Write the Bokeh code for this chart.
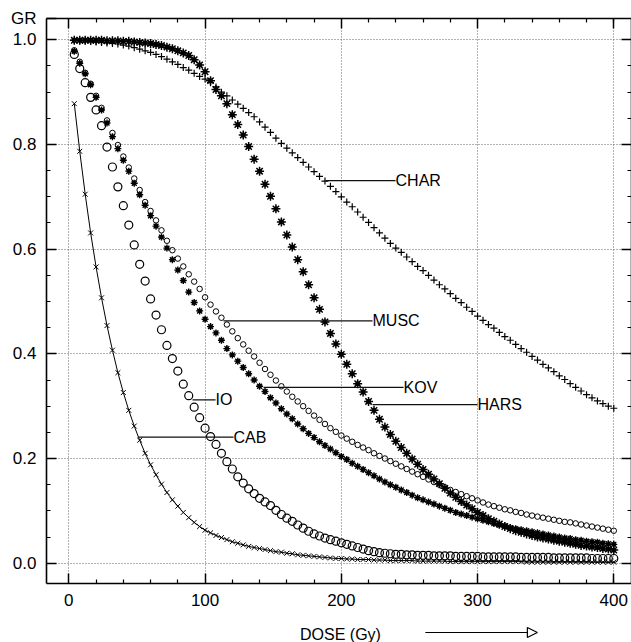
from bokeh.plotting import figure
from bokeh.layouts import column
from bokeh.models import (ColumnDataSource, FixedTicker, LinearAxis, Range1d,
                          CustomJSTickFormatter, Arrow, NormalHead)
from bokeh.embed import file_html
from bokeh.resources import INLINE
from bokeh.core.properties import value

# ---------------- data ----------------
dose = list(range(4, 404, 4))  # Gy, one point every 4 Gy

cab = [0.878, 0.787, 0.705, 0.631, 0.566, 0.507, 0.454, 0.407, 0.364, 0.326,
       0.292, 0.262, 0.235, 0.210, 0.188, 0.169, 0.151, 0.135, 0.121, 0.109,
       0.097, 0.087, 0.078, 0.070, 0.063, 0.058, 0.053, 0.049, 0.045, 0.041,
       0.038, 0.035, 0.032, 0.030, 0.028, 0.026, 0.024, 0.022, 0.021, 0.019,
       0.018, 0.016, 0.015, 0.014, 0.013, 0.012, 0.011, 0.010, 0.009, 0.009,
       0.008, 0.008, 0.007, 0.007, 0.007, 0.006, 0.006, 0.006, 0.005, 0.005,
       0.005, 0.005, 0.005, 0.004, 0.004, 0.004, 0.004, 0.004, 0.004, 0.003,
       0.003, 0.003, 0.003, 0.003, 0.003, 0.003, 0.003, 0.003, 0.003, 0.003,
       0.003, 0.003, 0.003, 0.002, 0.002, 0.002, 0.002, 0.002, 0.002, 0.002,
       0.002, 0.002, 0.002, 0.002, 0.002, 0.002, 0.002, 0.002, 0.002, 0.002]

io = [0.972, 0.945, 0.918, 0.890, 0.866, 0.836, 0.795, 0.757, 0.719, 0.683,
      0.646, 0.608, 0.571, 0.539, 0.505, 0.474, 0.446, 0.416, 0.391, 0.367,
      0.342, 0.320, 0.298, 0.278, 0.258, 0.242, 0.227, 0.210, 0.194, 0.180,
      0.165, 0.153, 0.142, 0.133, 0.124, 0.117, 0.110, 0.101, 0.093, 0.086,
      0.080, 0.073, 0.067, 0.061, 0.056, 0.052, 0.048, 0.045, 0.042, 0.039,
      0.036, 0.033, 0.030, 0.027, 0.024, 0.022, 0.020, 0.019, 0.018, 0.017,
      0.017, 0.016, 0.016, 0.015, 0.015, 0.015, 0.014, 0.014, 0.014, 0.014,
      0.013, 0.013, 0.013, 0.013, 0.013, 0.012, 0.012, 0.012, 0.012, 0.012,
      0.012, 0.012, 0.011, 0.011, 0.011, 0.011, 0.011, 0.011, 0.010, 0.010,
      0.010, 0.010, 0.010, 0.010, 0.010, 0.009, 0.009, 0.009, 0.009, 0.009]

kov = [0.978, 0.955, 0.935, 0.914, 0.890, 0.866, 0.841, 0.815, 0.792, 0.770,
       0.749, 0.726, 0.704, 0.684, 0.664, 0.644, 0.623, 0.602, 0.580, 0.560,
       0.540, 0.518, 0.498, 0.482, 0.466, 0.452, 0.440, 0.426, 0.410, 0.398,
       0.386, 0.374, 0.362, 0.350, 0.338, 0.328, 0.316, 0.306, 0.295, 0.285,
       0.276, 0.266, 0.257, 0.248, 0.240, 0.232, 0.225, 0.218, 0.211, 0.204,
       0.198, 0.191, 0.185, 0.179, 0.173, 0.167, 0.161, 0.155, 0.150, 0.145,
       0.140, 0.135, 0.130, 0.125, 0.121, 0.117, 0.113, 0.109, 0.105, 0.101,
       0.097, 0.094, 0.091, 0.088, 0.085, 0.082, 0.079, 0.076, 0.073, 0.071,
       0.068, 0.066, 0.064, 0.062, 0.060, 0.058, 0.056, 0.054, 0.052, 0.050,
       0.048, 0.047, 0.045, 0.044, 0.042, 0.041, 0.040, 0.038, 0.037, 0.036]

musc = [0.980, 0.958, 0.937, 0.916, 0.893, 0.870, 0.846, 0.822, 0.799, 0.777,
        0.756, 0.735, 0.713, 0.690, 0.673, 0.655, 0.636, 0.616, 0.598, 0.582,
        0.567, 0.552, 0.538, 0.524, 0.508, 0.494, 0.481, 0.469, 0.456, 0.443,
        0.430, 0.418, 0.406, 0.395, 0.383, 0.371, 0.360, 0.349, 0.338, 0.328,
        0.318, 0.309, 0.300, 0.291, 0.282, 0.274, 0.266, 0.258, 0.251, 0.244,
        0.238, 0.232, 0.226, 0.221, 0.216, 0.210, 0.205, 0.200, 0.195, 0.190,
        0.185, 0.180, 0.175, 0.170, 0.165, 0.160, 0.155, 0.150, 0.145, 0.140,
        0.136, 0.132, 0.128, 0.124, 0.120, 0.116, 0.112, 0.109, 0.106, 0.103,
        0.101, 0.098, 0.096, 0.093, 0.091, 0.089, 0.087, 0.085, 0.083, 0.081,
        0.079, 0.078, 0.076, 0.074, 0.072, 0.070, 0.068, 0.066, 0.064, 0.062]

hars = [0.999, 0.999, 0.999, 0.999, 0.999, 0.999, 0.998, 0.998, 0.998, 0.997,
        0.997, 0.996, 0.995, 0.994, 0.993, 0.991, 0.989, 0.986, 0.983, 0.979,
        0.975, 0.970, 0.962, 0.952, 0.939, 0.922, 0.905, 0.893, 0.878, 0.857,
        0.838, 0.818, 0.796, 0.772, 0.749, 0.724, 0.701, 0.677, 0.652, 0.627,
        0.604, 0.580, 0.557, 0.532, 0.507, 0.485, 0.461, 0.439, 0.419, 0.399,
        0.380, 0.362, 0.343, 0.327, 0.309, 0.292, 0.275, 0.260, 0.246, 0.233,
        0.221, 0.210, 0.199, 0.189, 0.179, 0.170, 0.161, 0.152, 0.143, 0.134,
        0.126, 0.118, 0.111, 0.104, 0.097, 0.091, 0.085, 0.080, 0.075, 0.070,
        0.066, 0.062, 0.059, 0.056, 0.053, 0.050, 0.048, 0.046, 0.044, 0.042,
        0.040, 0.038, 0.036, 0.034, 0.033, 0.031, 0.030, 0.028, 0.027, 0.025]

char = [0.999, 0.998, 0.998, 0.997, 0.996, 0.995, 0.994, 0.993, 0.992, 0.990,
        0.988, 0.985, 0.982, 0.979, 0.976, 0.972, 0.968, 0.963, 0.958, 0.953,
        0.947, 0.942, 0.936, 0.930, 0.925, 0.918, 0.910, 0.900, 0.893, 0.885,
        0.877, 0.869, 0.861, 0.853, 0.843, 0.833, 0.823, 0.812, 0.802, 0.793,
        0.784, 0.775, 0.766, 0.757, 0.748, 0.739, 0.730, 0.720, 0.710, 0.700,
        0.690, 0.681, 0.671, 0.661, 0.651, 0.641, 0.631, 0.621, 0.611, 0.602,
        0.594, 0.585, 0.576, 0.567, 0.559, 0.550, 0.541, 0.532, 0.524, 0.515,
        0.506, 0.498, 0.489, 0.481, 0.472, 0.464, 0.456, 0.449, 0.441, 0.433,
        0.426, 0.418, 0.410, 0.403, 0.395, 0.388, 0.380, 0.373, 0.366, 0.358,
        0.351, 0.343, 0.336, 0.329, 0.322, 0.316, 0.310, 0.305, 0.300, 0.296]

# curve labels with leader lines (dose from / to, GR level)
label_names = ["CHAR", "MUSC", "KOV", "HARS", "IO", "CAB"]
label_x0 = [188.4, 113.5, 142.9, 222.9, 90.8, 51.2]
label_x1 = [239.8, 222.9, 245.7, 300.0, 107.7, 120.9]
label_y = [0.731, 0.463, 0.336, 0.303, 0.312, 0.241]

x_major = [0, 100, 200, 300, 400]
x_minor = [20, 40, 60, 80, 120, 140, 160, 180, 220, 240, 260, 280,
           320, 340, 360, 380, 400]
y_major = [0.0, 0.2, 0.4, 0.6, 0.8, 1.0]
y_minor = [0.05, 0.10, 0.15, 0.25, 0.30, 0.35, 0.45, 0.50, 0.55,
           0.65, 0.70, 0.75, 0.85, 0.90, 0.95, 1.0]
y_title_pos = 1.04          # "GR" sits at the top of the y axis
y_title = "GR"
x_title = "DOSE (Gy)"
x_title_pos = 199.4         # centre of the x title (Gy)
arrow_from, arrow_to = 261.7, 343.9

FONT = "Liberation Sans"
X_RANGE = (-16.4, 413.0)

# ---------------- main figure ----------------
p = figure(width=631, height=615, output_backend="svg", toolbar_location=None,
           x_range=Range1d(*X_RANGE), y_range=Range1d(-0.0388, 1.0407),
           min_border_left=46, min_border_right=0, min_border_top=18,
           min_border_bottom=32)
p.background_fill_color = "white"
p.border_fill_color = "white"
p.outline_line_color = None

xt = FixedTicker(ticks=x_major, minor_ticks=x_minor)
yt = FixedTicker(ticks=y_major, minor_ticks=y_minor)
yt_left = FixedTicker(ticks=y_major + [y_title_pos], minor_ticks=y_minor)
blank = CustomJSTickFormatter(code="return '';")

def style_axis(ax):
    ax.axis_line_color = "black"
    ax.axis_line_width = 1.6
    ax.major_tick_in = 10
    ax.major_tick_out = 0
    ax.minor_tick_in = 4
    ax.minor_tick_out = 0
    ax.major_tick_line_color = "black"
    ax.minor_tick_line_color = "black"
    ax.major_tick_line_width = 1.5
    ax.minor_tick_line_width = 1.2
    ax.major_label_text_font = FONT
    ax.major_label_text_color = "black"
    ax.major_label_text_font_size = "17px"

xa = p.below[0]
xa.ticker = xt
style_axis(xa)
xa.major_label_standoff = 10

ya = p.left[0]
ya.ticker = yt_left
style_axis(ya)
ya.major_label_standoff = 10
ya.formatter = CustomJSTickFormatter(
    args=dict(title=y_title, pos=y_title_pos),
    code="return Math.abs(tick - pos) < 1e-6 ? title : tick.toFixed(1);")

top = LinearAxis(ticker=xt, formatter=blank)
style_axis(top)
top.major_label_standoff = 0
p.add_layout(top, "above")
right = LinearAxis(ticker=yt, formatter=blank)
style_axis(right)
right.major_label_standoff = 0
p.add_layout(right, "right")

p.xgrid.ticker = xt
p.ygrid.ticker = yt
for g in (p.xgrid[0], p.ygrid[0]):
    g.grid_line_color = "#555555"
    g.grid_line_dash = "1 2"
    g.grid_line_width = 1
    g.grid_line_alpha = 0.9

# ---------------- series ----------------
src = ColumnDataSource(dict(dose=dose, cab=cab, io=io, kov=kov, musc=musc,
                            hars=hars, char=char))

p.line("dose", "cab", source=src, line_color="black", line_width=1)
p.scatter("dose", "cab", source=src, marker="x", size=7,
          line_color="black", line_width=1)

p.scatter("dose", "io", source=src, marker="circle", size=8,
          fill_color=None, line_color="black", line_width=1.2)

p.scatter("dose", "musc", source=src, marker="circle", size=5.5,
          fill_color=None, line_color="black", line_width=1)

p.scatter("dose", "kov", source=src, marker="circle", size=3.5,
          fill_color="black", line_color="black")
p.scatter("dose", "kov", source=src, marker="asterisk", size=7,
          line_color="black", line_width=1.4)

p.scatter("dose", "hars", source=src, marker="circle", size=4,
          fill_color="black", line_color="black")
p.scatter("dose", "hars", source=src, marker="asterisk", size=9,
          line_color="black", line_width=1.5)

p.scatter("dose", "char", source=src, marker="cross", size=7,
          line_color="black", line_width=1.2)

# ---------------- curve labels ----------------
lab = ColumnDataSource(dict(name=label_names, x0=label_x0, x1=label_x1, y=label_y))
p.segment(x0="x0", y0="y", x1="x1", y1="y", source=lab,
          line_color="#111111", line_width=1.3)
p.text(x="x1", y="y", text="name", source=lab, text_font=value(FONT),
       text_font_size="16px", text_baseline="middle", text_align="left",
       text_color="black")

# ---------------- x title strip with arrow ----------------
p2 = figure(width=631, height=27, output_backend="svg", toolbar_location=None,
            x_range=p.x_range, y_range=Range1d(0, 1),
            x_axis_type=None, y_axis_type=None,
            min_border_left=46, min_border_right=0, min_border_top=0,
            min_border_bottom=0)
p2.outline_line_color = None
p2.background_fill_color = "white"
p2.border_fill_color = "white"
p2.text(x=[x_title_pos], y=[0.3], text=[x_title], text_font=value(FONT),
        text_font_size="16px", text_baseline="middle", text_align="center",
        text_color="black")
p2.add_layout(Arrow(end=NormalHead(size=10, fill_color="white",
                                   line_color="black", line_width=1.2),
                    x_start=arrow_from, y_start=0.37, x_end=arrow_to, y_end=0.37,
                    line_color="black", line_width=1.2))

layout = column(p, p2, spacing=0)
open("out.html", "w").write(file_html(layout, INLINE))
